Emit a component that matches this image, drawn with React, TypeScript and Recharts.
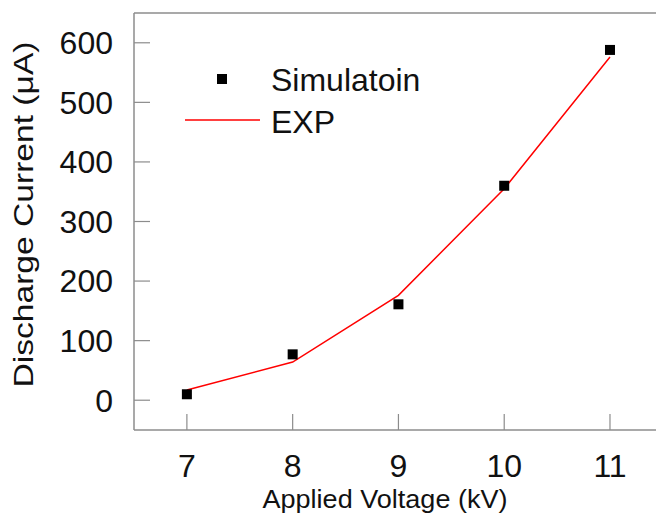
import React from "react"
import {
  ComposedChart,
  Scatter,
  Line,
  XAxis,
  YAxis,
  Legend,
  ReferenceLine,
} from "recharts"

// valores
const voltage = [7, 8, 9, 10, 11]
const simulation = [10, 77, 161, 360, 588]
const experiment = [17, 64, 176, 355, 576]
const xTicks = [7, 8, 9, 10, 11]
const yTicks = [0, 100, 200, 300, 400, 500, 600]

const data = voltage.map((v, i) => ({ v, sim: simulation[i], exp: experiment[i] }))

const FONT = '"Liberation Sans", Arial, sans-serif'
const AXIS = "#8c8c8c"

function SquareDot(props: any) {
  const { cx, cy } = props
  if (cx == null || cy == null) return null
  return <rect x={cx - 5} y={cy - 5} width={10} height={10} fill="#000" />
}

function YTitle(props: any) {
  const vb = props.viewBox || {}
  const cy = vb.y + vb.height / 2 - 7
  return (
    <text
      x={33}
      y={cy}
      transform={`rotate(-90, 33, ${cy})`}
      textAnchor="middle"
      fontSize={28}
      fontFamily={FONT}
      fill="#111"
      textLength={346}
      lengthAdjust="spacingAndGlyphs"
    >
      Discharge Current (μA)
    </text>
  )
}

function XTitle(props: any) {
  const vb = props.viewBox || {}
  return (
    <text
      x={vb.x + vb.width / 2 - 10}
      y={508}
      textAnchor="middle"
      fontSize={25}
      fontFamily={FONT}
      fill="#111"
      textLength={245}
      lengthAdjust="spacingAndGlyphs"
    >
      Applied Voltage (kV)
    </text>
  )
}

function LegendBox() {
  return (
    <svg width={260} height={90} style={{ display: "block" }}>
      <rect x={35} y={16} width={10} height={10} fill="#000" />
      <text x={89} y={21} dy="0.36em" fontSize={32} fontFamily={FONT} fill="#111">
        Simulatoin
      </text>
      <line x1={3} x2={78} y1={62} y2={62} stroke="#ff0000" strokeWidth={1.5} />
      <text x={89} y={63} dy="0.36em" fontSize={32} fontFamily={FONT} fill="#111">
        EXP
      </text>
    </svg>
  )
}

export default function App() {
  return (
    <div style={{ position: "absolute", left: 0, top: 0, background: "#fff" }}>
      <ComposedChart
        width={656}
        height={514}
        data={data}
        margin={{ top: 13, right: 0, bottom: 0, left: 0 }}
      >
        <XAxis
          dataKey="v"
          type="number"
          domain={[6.5, 11.435]}
          ticks={xTicks}
          interval={0}
          allowDataOverflow
          height={84}
          tickSize={-16}
          tickMargin={40}
          axisLine={{ stroke: AXIS, strokeWidth: 1.5 }}
          tickLine={{ stroke: AXIS, strokeWidth: 1.2 }}
          tick={{ fontSize: 32, fill: "#111", fontFamily: FONT }}
          label={<XTitle />}
        />
        <YAxis
          type="number"
          domain={[-50, 650]}
          ticks={yTicks}
          interval={0}
          allowDataOverflow
          width={134}
          tickSize={-16}
          tickMargin={37}
          axisLine={{ stroke: AXIS, strokeWidth: 1.5 }}
          tickLine={{ stroke: AXIS, strokeWidth: 1.2 }}
          tick={{ fontSize: 32, fill: "#111", fontFamily: FONT }}
          label={<YTitle />}
        />
        <ReferenceLine y={650} stroke={AXIS} strokeWidth={1.5} />
        <Line
          dataKey="exp"
          type="linear"
          stroke="#ff0000"
          strokeWidth={1.5}
          dot={false}
          activeDot={false}
          isAnimationActive={false}
          legendType="none"
        />
        <Scatter dataKey="sim" shape={<SquareDot />} isAnimationActive={false} legendType="none" />
        <Legend
          layout="vertical"
          align="center"
          verticalAlign="middle"
          content={<LegendBox />}
          wrapperStyle={{ left: 182, top: 58, width: 260 }}
        />
      </ComposedChart>
    </div>
  )
}
